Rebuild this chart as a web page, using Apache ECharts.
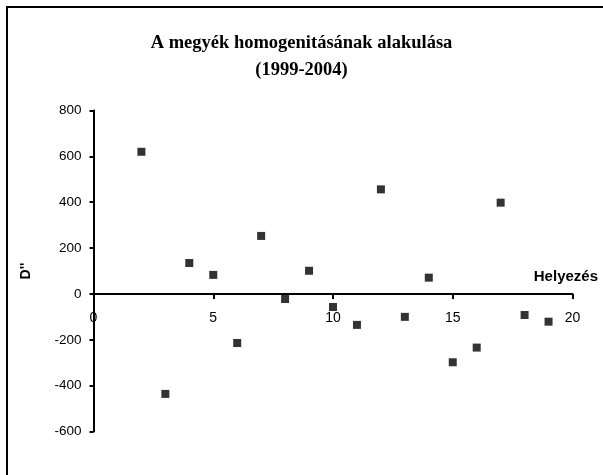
<!DOCTYPE html>
<html>
<head>
<meta charset="utf-8">
<script src="https://cdn.jsdelivr.net/npm/echarts@6/dist/echarts.min.js"></script>
<style>html,body{margin:0;padding:0;background:#fff}#c{width:603px;height:475px}</style>
</head>
<body>
<div id="c"></div>
<script>
var titleLines = ['A megyék homogenitásának alakulása', '(1999-2004)'];
var xName = 'Helyezés';
var yName = "D''";
var positions = [2, 3, 4, 5, 6, 7, 8, 9, 10, 11, 12, 13, 14, 15, 16, 17, 18, 19];
var values = [620, -436, 135, 83, -214, 253, -22, 101, -57, -135, 456, -100, 71, -298, -234, 398, -92, -121];

var points = positions.map(function (p, i) { return [p, values[i]]; });

var gridTop = 110.5, gridBottom = 43.5, H = 475;
var yMin = -600, yMax = 800;
var plotH = H - gridTop - gridBottom;
var zeroOffset = -(plotH * (0 - yMin) / (yMax - yMin));

var chart = echarts.init(document.getElementById('c'), null, {renderer: 'canvas'});
chart.setOption({
  animation: false,
  backgroundColor: '#fff',
  title: {
    text: titleLines.join('\n'),
    left: 'center',
    top: 25,
    textStyle: {fontFamily: 'Liberation Serif', fontWeight: 'bold', fontSize: 18.5, color: '#000', lineHeight: 27}
  },
  grid: {left: 93.5, right: 30.5, top: gridTop, bottom: gridBottom, containLabel: false},
  xAxis: {
    type: 'value', min: 0, max: 20, interval: 5,
    position: 'bottom', offset: zeroOffset,
    axisLine: {show: true, onZero: false, lineStyle: {color: '#000', width: 2}},
    axisTick: {show: true, inside: false, length: 5, lineStyle: {color: '#000', width: 2}},
    axisLabel: {margin: 17, color: '#000', fontFamily: 'Liberation Sans', fontSize: 14},
    splitLine: {show: false}
  },
  yAxis: {
    type: 'value', min: yMin, max: yMax, interval: 200,
    name: yName, nameLocation: 'middle', nameGap: 60, nameRotate: 90,
    nameTextStyle: {color: '#000', fontFamily: 'Liberation Sans', fontSize: 14, fontWeight: 'bold'},
    axisLine: {show: true, lineStyle: {color: '#000', width: 2}},
    axisTick: {show: true, length: 4, lineStyle: {color: '#000', width: 2}},
    axisLabel: {margin: 12, color: '#000', fontFamily: 'Liberation Sans', fontSize: 13.5},
    splitLine: {show: false}
  },
  graphic: [
    {type: 'line', shape: {x1: 6, y1: 7, x2: 603, y2: 7}, style: {stroke: '#000', lineWidth: 2}},
    {type: 'line', shape: {x1: 7, y1: 6, x2: 7, y2: 475}, style: {stroke: '#000', lineWidth: 2}},
    {type: 'text', right: 5, top: 269, style: {text: xName, fill: '#000', font: 'bold 15px "Liberation Sans"'}}
  ],
  series: [{
    type: 'scatter',
    data: points,
    symbol: 'rect',
    symbolSize: 8,
    itemStyle: {color: '#000'}
  }]
});
</script>
</body>
</html>
